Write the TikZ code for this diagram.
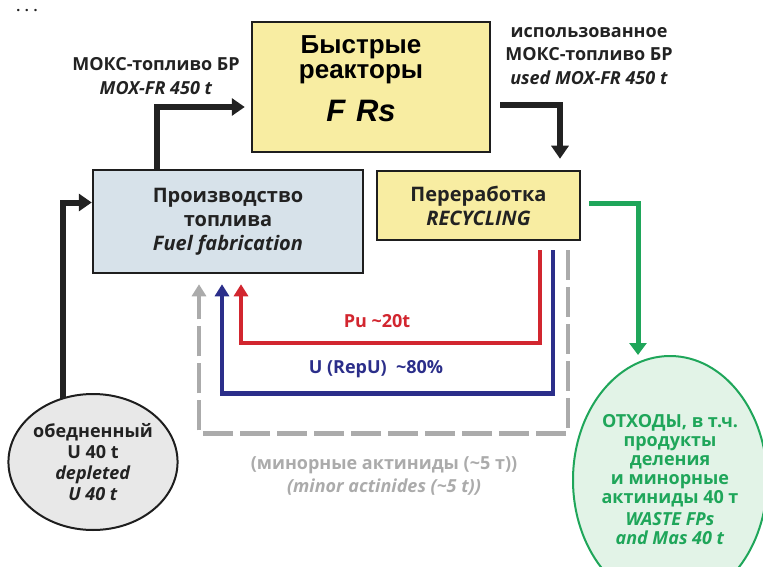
\documentclass[tikz,border=0pt]{standalone}
\usepackage{fontspec}
\setmainfont{Open Sans}
\newfontfamily\frfont{Liberation Sans}
\usetikzlibrary{arrows.meta,calc,shapes.geometric}

\definecolor{txt}{HTML}{222222}
\definecolor{boxline}{HTML}{1E1E1E}
\definecolor{yellowfill}{HTML}{F8EDA2}
\definecolor{fabfill}{HTML}{D7E2EA}
\definecolor{depfill}{HTML}{E8E8E8}
\definecolor{wastefill}{HTML}{E2F3E7}
\definecolor{wastecol}{HTML}{1FA65A}
\definecolor{pucol}{HTML}{D2262F}
\definecolor{ucol}{HTML}{2B2E8A}
\definecolor{macol}{HTML}{ABABAB}

\tikzset{
  box/.style={draw=boxline, line width=2.5pt, align=center, text=txt,
    font=\bfseries\fontsize{20}{24}\selectfont},
  lbl/.style={align=center, text=txt, inner sep=0pt,
    font=\bfseries\fontsize{18}{23.5}\selectfont},
  flow/.style={draw=txt, line width=6pt, -{Triangle[width=17pt,length=13pt]}},
  backflow/.style={line width=4.5pt, -{Triangle[width=14pt,length=12pt]}}
}

\begin{document}
\begin{tikzpicture}[x=1pt,y=-1pt]
		\useasboundingbox (0,0) rectangle (763,567);
		\node[text=txt, inner sep=0pt, font=\bfseries\fontsize{14}{14}\selectfont] (dots) at (27,11) {.\,\,.\,\,.};
		
		% Boxes
		\node[box, fill=yellowfill, minimum width=238pt, minimum height=130pt] (fr) at (371,87) {};
		\node[text=black, align=center, inner sep=0pt, font=\frfont\bfseries\fontsize{26}{25}\selectfont] (frtext) at ($(fr.center)+(-10,-8)$)
			{Быстрые\\реакторы\\[15pt]{\fontsize{31}{31}\selectfont\itshape F\hspace{0.35em}Rs}};
		\node[box, fill=fabfill, minimum width=270pt, minimum height=103pt] (fab) at (228,221.5)
			{Производство\\топлива\\\textit{Fuel fabrication}};
		\node[box, fill=yellowfill, minimum width=203pt, minimum height=69pt] (rec) at (478.5,205.5)
			{Переработка\\\textit{RECYCLING}};
		
		% Ellipses
		\node[box, ellipse, fill=depfill, line width=2pt, inner sep=0pt, minimum width=166pt, minimum height=136pt,
			font=\bfseries\fontsize{18}{21}\selectfont] (dep) at (93,462)
			{обедненный\\U 40 t\\\textit{depleted}\\\textit{U 40 t}};
		\node[ellipse, draw=wastecol, line width=2pt, fill=wastefill, text=wastecol, align=center, inner sep=0pt,
			minimum width=194pt, minimum height=248pt, font=\bfseries\fontsize{18}{19}\selectfont] (waste) at (670,480)
			{ОТХОДЫ, в т.ч.\\продукты\\деления\\и минорные\\актиниды 40 т\\[3pt]\textit{WASTE FPs}\\\textit{and Mas 40 t}};
		
		% Main flow
		\draw[flow, shorten >=6pt] ($(fab.north)+(-71,0)$) |- ($(fr.west)+(0,20)$);
		\draw[flow, shorten >=11pt] ($(fr.east)+(9,18)$) -| ($(rec.north)+(81.5,0)$);
		\draw[flow] ($(dep.north)+(-30,5)$) |- ($(fab.west)+(0,-19)$);
		\draw[line width=5pt, draw=wastecol, -{Triangle[width=17pt,length=12pt]}] ($(rec.east)+(8,-2)$) -| ($(waste.north)+(-32,0)$);
		
		% Recycled materials
		\draw[backflow, draw=pucol] ($(rec.south)+(61.5,9)$) |- ($(fab.south)+(13,68.5)$) -- ($(fab.south)+(13,10)$);
		\draw[backflow, draw=ucol] ($(rec.south)+(74.5,9)$) |- ($(fab.south)+(-6,119)$) -- ($(fab.south)+(-6,10)$);
		\draw[backflow, draw=macol, dash pattern=on 30pt off 7pt] ($(rec.south)+(89.5,9)$) |- ($(fab.south)+(-29,159)$) -- ($(fab.south)+(-29,10)$);
		
		% Labels
		\node[lbl] (moxlbl) at (156,76) {МОКС-топливо БР\\\textit{MOX-FR 450 t}};
		\node[lbl] (usedlbl) at (589,56) {использованное\\МОКС-топливо БР\\\textit{used MOX-FR 450 t}};
		\node[lbl, text=pucol] (pulbl) at (377,321) {Pu \textasciitilde20t};
		\node[lbl, text=ucol] (ulbl) at (376,369) {U (RepU)\ \ \textasciitilde80\%};
		\node[lbl, text=macol, font=\bfseries\fontsize{18}{23}\selectfont] (malbl) at (384,476)
			{(минорные актиниды (\textasciitilde5 т))\\\textit{(minor actinides (\textasciitilde5 t))}};
	\end{tikzpicture}
\end{document}
